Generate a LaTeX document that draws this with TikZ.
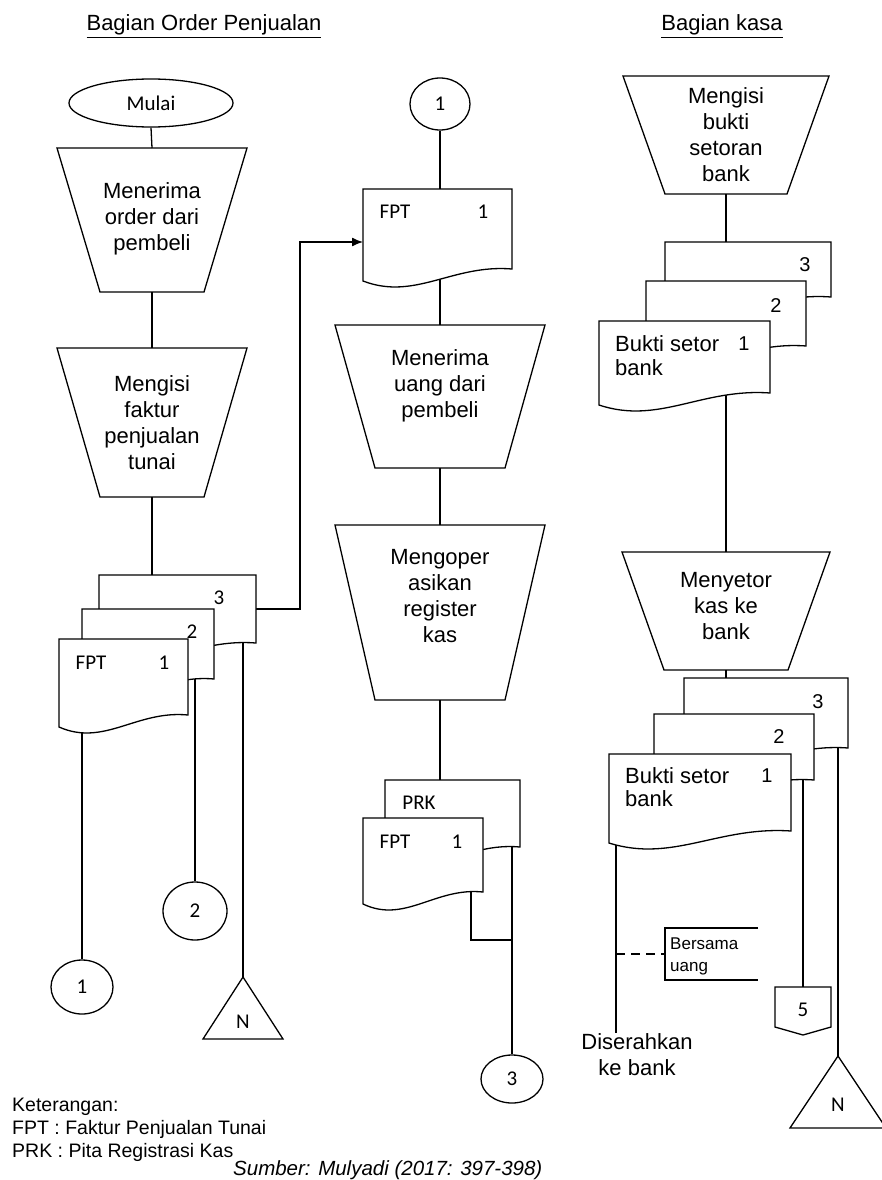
\documentclass[tikz,border=0pt]{standalone}
\usepackage{fontspec}
\setmainfont{Liberation Sans}
\newfontfamily\calfont{Carlito}
\usetikzlibrary{calc,arrows.meta,shapes.geometric}

\tikzset{
 ln/.style={line width=1.3pt, draw=black},
 box/.style={rectangle, inner sep=0pt, outer sep=0pt, draw=none},
 txt/.style={inner sep=0pt, font=\fontsize{22}{26}\selectfont, align=center},
 ctxt/.style={inner sep=0pt, font=\calfont\fontsize{21}{24}\selectfont},
 atxt/.style={inner sep=0pt, font=\fontsize{20}{24}\selectfont},
 circ/.style={ellipse, draw, line width=1.3pt, inner sep=0pt, font=\calfont\fontsize{21}{24}\selectfont},
 arr/.style={ln, -{Latex[length=11pt,width=9pt]}},
}

\newcommand{\trapdraw}[2]{\draw[ln] (#1.north west) -- (#1.north east) -- ([xshift=-#2pt]#1.south east) -- ([xshift=#2pt]#1.south west) -- cycle;}
\newcommand{\docdraw}[1]{\draw[ln, fill=white] (#1.north west) -- (#1.north east) -- (#1.south east) .. controls ($(#1.south west)!0.6!(#1.south east)+(0pt,5pt)$) and ($(#1.south west)!0.35!(#1.south east)+(0pt,-32pt)$) .. ($(#1.south west)+(0pt,-12pt)$) -- cycle;}

\begin{document}
\begin{tikzpicture}[x=1pt,y=-1pt]
\useasboundingbox (0,0) rectangle (882,1180);

% ---------- titles
\node[txt, anchor=base] (h1) at (204,31) {\underline{Bagian Order Penjualan}};
\node[txt, anchor=base] (h2) at (722,31) {\underline{Bagian kasa}};

% ---------- column 1 shapes
\node[circ, minimum width=164pt, minimum height=48pt] (mulai) at (151,103) {Mulai};
\node[box, minimum width=190pt, minimum height=144pt] (T1) at (152,220) {};
\node[box, minimum width=190pt, minimum height=149pt] (T2) at (152,422.5) {};
\node[box, minimum width=157pt, minimum height=68pt] (L3) at (177.5,609) {};
\node[box, minimum width=132pt, minimum height=70pt] (L2) at (148,644) {};
\node[box, minimum width=129pt, minimum height=76pt] (L1) at (123.5,677) {};
\node[circ, minimum width=62pt, minimum height=54pt] (c1) at (82,987) {1};
\node[circ, minimum width=64pt, minimum height=58pt] (c2) at (195,911) {2};
\node[box, minimum width=80pt, minimum height=62pt] (N1) at (243,1008) {};
\coordinate (jA) at (300,242);

% ---------- column 2 shapes
\node[circ, minimum width=60pt, minimum height=52pt] (cA) at (440,104) {1};
\node[box, minimum width=149pt, minimum height=80pt] (F1) at (437.5,229) {};
\node[box, minimum width=210pt, minimum height=143pt] (TA) at (440,396.5) {};
\node[box, minimum width=210pt, minimum height=175pt] (TB) at (440,612.5) {};
\node[box, minimum width=135pt, minimum height=67pt] (P1) at (452.5,813.5) {};
\node[box, minimum width=120pt, minimum height=74pt] (F2) at (423,855) {};
\node[circ, minimum width=62pt, minimum height=48pt] (c3) at (512,1079) {3};
\coordinate (j3) at (471,940);

% ---------- column 3 shapes
\node[box, minimum width=206pt, minimum height=118pt] (KA) at (726,135) {};
\node[box, minimum width=166pt, minimum height=55pt] (K3) at (748,269.5) {};
\node[box, minimum width=160pt, minimum height=65pt] (K2) at (726,313.5) {};
\node[box, minimum width=171pt, minimum height=72pt] (K1) at (684.5,357) {};
\node[box, minimum width=208pt, minimum height=118pt] (KB) at (726,611) {};
\node[box, minimum width=164pt, minimum height=70pt] (M3) at (766,713) {};
\node[box, minimum width=160pt, minimum height=66pt] (M2) at (734,747) {};
\node[box, minimum width=182pt, minimum height=77pt] (M1) at (700,792.5) {};
\coordinate (dis) at (616,1033);
\node[box, minimum width=93pt, minimum height=52pt] (ann) at (711.5,954) {};
\node[box, minimum width=56pt, minimum height=40pt] (O5) at (803,1007) {};
\node[box, minimum width=96pt, minimum height=72pt] (N2) at (838,1092) {};

% ---------- connectors
\draw[ln] (mulai.south) -- (T1.north);
\draw[ln] (T1.south) -- (T2.north);
\draw[ln] (T2.south) -- (T2.south |- L3.north);
\draw[arr] (L3.east) -| (jA) -- (jA -| F1.west);
\draw[ln] (c1.north |- L1.south) -- (c1.north);
\draw[ln] (c2.north |- L2.south) -- (c2.north);
\draw[ln] (N1.north |- L3.south) -- (N1.north);

\draw[ln] (cA.south) -- (cA.south |- F1.north);
\draw[ln] (TA.north |- F1.south) -- (TA.north);
\draw[ln] (TA.south) -- (TB.north);
\draw[ln] (TB.south) -- (TB.south |- P1.north);
\draw[ln] (c3.north |- P1.south) -- (c3.north);
\draw[ln] (j3 |- F2.south) -- (j3) -- (j3 -| c3.north);

\draw[ln] (KA.south) -- (KA.south |- K3.north);
\draw[ln] (KB.north |- K1.south) -- (KB.north);
\draw[ln] (KB.south) -- (KB.south |- M3.north);
\draw[ln] (dis |- M1.south) -- (dis);
\draw[ln] (O5.north |- M2.south) -- (O5.north);
\draw[ln] (N2.north |- M3.south) -- (N2.north);
\draw[ln, dash pattern=on 9pt off 6pt] (ann.west -| dis) -- (ann.west);

% ---------- outlines
\trapdraw{T1}{43}
\trapdraw{T2}{43}
\trapdraw{TA}{40}
\trapdraw{TB}{40}
\trapdraw{KA}{42}
\trapdraw{KB}{42}
\docdraw{L3}
\docdraw{L2}
\docdraw{L1}
\docdraw{F1}
\docdraw{P1}
\docdraw{F2}
\docdraw{K3}
\docdraw{K2}
\docdraw{K1}
\docdraw{M3}
\docdraw{M2}
\docdraw{M1}
\draw[ln] (N1.north) -- (N1.south east) -- (N1.south west) -- cycle;
\draw[ln] (N2.north) -- (N2.south east) -- (N2.south west) -- cycle;
\draw[ln] (ann.north east) -- (ann.north west) -- (ann.south west) -- (ann.south east);
\draw[ln] (O5.north west) -- (O5.north east) -- (O5.south east) -- ($(O5.south)+(0pt,-8pt)$) -- (O5.south west) -- cycle;

% ---------- texts
\node[txt] (T1t) at (152,219) {Menerima\\order dari\\pembeli};
\node[txt] (T2t) at (152,423) {Mengisi\\faktur\\penjualan\\tunai};
\node[ctxt] (L3n) at (219,598) {3};
\node[ctxt] (L2n) at (192,632) {2};
\node[ctxt] (L1a) at (91,663) {FPT};
\node[ctxt] (L1n) at (164,663) {1};
\node[ctxt] (N1t) at (243,1022) {N};

\node[ctxt] (F1a) at (395,212) {FPT};
\node[ctxt] (F1n) at (483,212) {1};
\node[txt] (TAt) at (440,386) {Menerima\\uang dari\\pembeli};
\node[txt] (TBt) at (440,596) {Mengoper\\asikan\\register\\kas};
\node[ctxt] (P1a) at (419,803) {PRK};
\node[ctxt] (F2a) at (395,842) {FPT};
\node[ctxt] (F2n) at (457,842) {1};

\node[txt] (KAt) at (726,135) {Mengisi\\bukti\\setoran\\bank};
\node[atxt] (K3n) at (805,265) {3};
\node[atxt] (K2n) at (776,306) {2};
\node[txt, anchor=west, align=left, font=\fontsize{22}{24}\selectfont] (K1a) at (615,356) {Bukti setor\\bank};
\node[atxt] (K1n) at (744,344) {1};
\node[txt] (KBt) at (726,606) {Menyetor\\kas ke\\bank};
\node[atxt] (M3n) at (818,702) {3};
\node[atxt] (M2n) at (779,737) {2};
\node[txt, anchor=west, align=left, font=\fontsize{22}{23}\selectfont] (M1a) at (625,787.5) {Bukti setor\\bank};
\node[atxt] (M1n) at (767,776) {1};
\node[inner sep=0pt, font=\fontsize{17}{22}\selectfont, align=left, anchor=west] (bers) at (670,956) {Bersama\\uang};
\node[ctxt] (O5t) at (803,1010) {5};
\node[txt] (diser) at (637,1055) {Diserahkan\\ke bank};
\node[ctxt] (N2t) at (838,1105) {N};

% ---------- legend
\node[inner sep=0pt, font=\fontsize{19.5}{23}\selectfont, align=left, anchor=west] (ket) at (12,1130) {Keterangan:\\FPT : Faktur Penjualan Tunai\\PRK : Pita Registrasi Kas};
\node[inner sep=0pt, font=\fontsize{20.5}{24}\selectfont\itshape, anchor=west] (src) at (233,1170) {Sumber: Mulyadi (2017: 397-398)};
\end{tikzpicture}
\end{document}
